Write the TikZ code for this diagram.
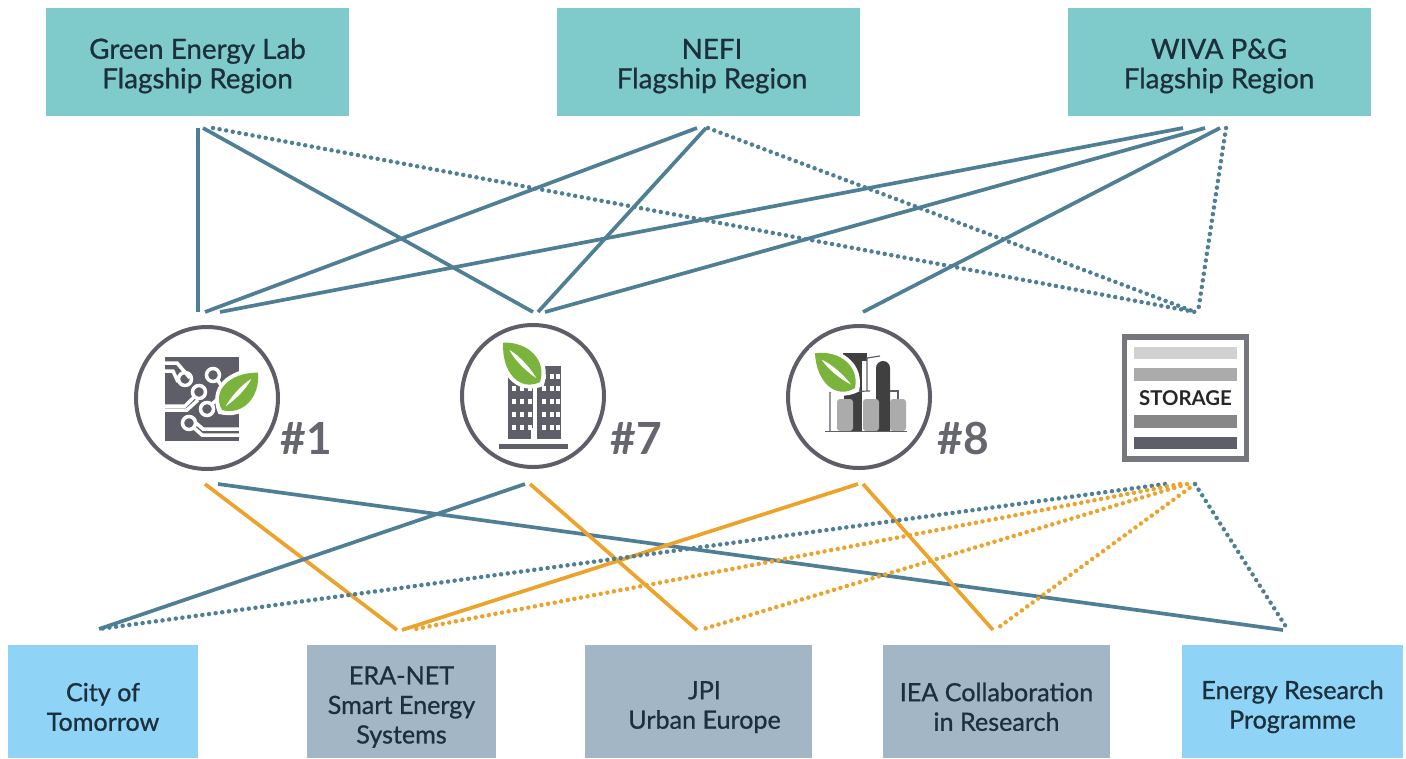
\documentclass[tikz,border=0pt]{standalone}
\usepackage{fontspec}
\setmainfont{Lato}
\newfontfamily\boxfont[FakeBold=0.8]{Lato}
\usetikzlibrary{calc}
\definecolor{topteal}{HTML}{7FCACA}
\definecolor{lightblue}{HTML}{8FD3F7}
\definecolor{greyblue}{HTML}{A3B6C6}
\definecolor{linkteal}{HTML}{4F7F95}
\definecolor{linkorange}{HTML}{EDA32B}
\definecolor{icongrey}{HTML}{5E5E68}
\definecolor{leafgreen}{HTML}{7AB43C}
\definecolor{tankgrey}{HTML}{ABABAB}
\definecolor{boxtext}{HTML}{1C2F3C}
\newcommand{\toplift}{\rule{0pt}{8pt}}
\newcommand{\botlift}{\rule{0pt}{8.3pt}}
\tikzset{
	region/.style={fill=topteal,minimum width=3.03cm,minimum height=1.08cm,inner sep=0pt,align=center,font=\boxfont\fontsize{7.9}{8.4}\selectfont,text=boxtext},
	programme/.style={fill=#1,minimum height=1.13cm,inner sep=0pt,align=center,font=\boxfont\fontsize{7.15}{8.4}\selectfont,text=boxtext},
	linkblue/.style={line width=0.037cm,color=linkteal},
	linkblued/.style={line width=0.045cm,color=linkteal,line cap=round,dash pattern=on 0pt off 0.067cm},
	linkor/.style={line width=0.037cm,color=linkorange},
	linkord/.style={line width=0.045cm,color=linkorange,line cap=round,dash pattern=on 0pt off 0.067cm},
	badge/.style={circle,draw=icongrey,line width=0.04cm,minimum size=1.42cm,inner sep=0pt},
	number/.style={font=\fontsize{12.6}{13}\selectfont\bfseries,text=icongrey!95},
	trace/.style={white,line width=0.035cm},
	leaf/.pic={
		\fill[white] (-0.1,0) .. controls (0.1,0.5) and (0.65,0.5) .. (1.14,0) .. controls (0.7,-0.46) and (0.15,-0.46) .. (-0.1,0) -- cycle;
		\fill[leafgreen] (0,0) .. controls (0.12,0.4) and (0.62,0.4) .. (1,0) .. controls (0.68,-0.36) and (0.2,-0.36) .. (0,0) -- cycle;
		\fill[white] (0.1,0) .. controls (0.3,0.05) and (0.6,0.07) .. (0.82,0.01) .. controls (0.6,-0.06) and (0.3,-0.04) .. (0.1,0) -- cycle;
	}
}
\begin{document}
\begin{tikzpicture}
	\useasboundingbox (0,0) rectangle (14.06,7.58);
	%%%%% BOXES %%%%%

	\node[region] (green) at (1.975,6.96) {\toplift Green Energy Lab\\Flagship Region};
	\node[region] (nefi) at (7.08,6.96) {\toplift\hspace*{0.08cm}NEFI\\\hspace*{0.08cm}Flagship Region};
	\node[region] (wiva) at (12.19,6.96) {\toplift WIVA P\&G\\Flagship Region};

	\node[programme=lightblue,minimum width=1.9cm] (city) at (1.03,0.565) {\botlift City of\\Tomorrow};
	\node[programme=greyblue,minimum width=1.89cm] (era) at (4.015,0.565) {\botlift ERA-NET\\Smart Energy\\Systems};
	\node[programme=greyblue,minimum width=2.27cm] (jpi) at (6.985,0.565) {\botlift\hspace*{0.12cm}JPI\\\hspace*{0.12cm}Urban Europe};
	\node[programme=greyblue,minimum width=2.27cm] (iea) at (9.965,0.565) {\botlift IEA Collaboration\\in Research};
	\node[programme=lightblue,minimum width=2.21cm] (erp) at (12.925,0.565) {\botlift Energy Research\\Programme};

	%%%%% ICONS %%%%%

	\node[badge] (one) at (2.07,3.6) {};
	\node[badge] (seven) at (5.33,3.62) {};
	\node[badge] (eight) at (8.59,3.61) {};
	\node[number] (onenum) at (3.06,3.2) {\#1};
	\node[number] (sevennum) at (6.36,3.2) {\#7};
	\node[number] (eightnum) at (9.63,3.2) {\#8};

	% chip
	\fill[icongrey] (1.65,3.17) rectangle (2.39,4.01);
	\draw[trace] (1.65,3.95) -- (1.77,3.95) -- (1.9,3.8);
	\draw[trace] (1.65,3.87) -- (1.73,3.87) -- (1.78,3.76);
	\draw[trace] (1.85,3.79) circle (0.065);
	\draw[trace] (2.13,3.83) circle (0.065);
	\draw[trace] (2.17,3.79) -- (2.24,3.68);
	\draw[trace] (1.99,3.66) circle (0.065);
	\draw[trace] (1.95,3.62) -- (1.85,3.52) -- (1.65,3.52);
	\draw[trace] (1.65,3.48) -- (1.87,3.48) -- (1.98,3.58);
	\draw[trace] (2.07,3.49) circle (0.065);
	\draw[trace] (2.11,3.53) -- (2.24,3.65);
	\draw[trace] (1.89,3.35) circle (0.065);
	\draw[trace] (1.93,3.31) -- (2.02,3.23) -- (2.39,3.23);
	\draw[trace] (1.96,3.35) -- (2.03,3.29) -- (2.39,3.29);
	\pic[shift={(2.22,3.48)},rotate=46,scale=0.52] {leaf};

	% building
	\fill[icongrey] (5.08,3.19) rectangle (5.33,3.81);
	\fill[icongrey] (5.37,3.19) rectangle (5.61,3.92);
	\fill[icongrey] (4.99,3.09) rectangle (5.68,3.14);
	\fill[white] (5.31,3.19) rectangle (5.33,3.3);
	\foreach \wx in {5.12,5.2,5.28}
		\foreach \wy in {3.28,3.41,3.54,3.67}
			\fill[white] (\wx,\wy) rectangle +(0.04,0.05);
	\foreach \wx in {5.42,5.5,5.56}
		\foreach \wy in {3.28,3.41,3.54,3.67,3.79}
			\fill[white] (\wx,\wy) rectangle +(0.04,0.05);
	\pic[shift={(5.4,3.76)},rotate=133,scale=0.54] {leaf};

	% refinery
	\fill[black!75] (8.43,4.05) rectangle (8.67,3.97);
	\fill[black!75] (8.5,4.0) rectangle (8.62,3.27);
	\fill[black!75] (8.44,3.75) rectangle (8.6,3.27);
	\fill[black!75] (8.76,3.27) -- (8.76,3.9) arc (180:0:0.07) -- (8.9,3.27) -- cycle;
	\draw[icongrey,line width=0.012cm] (8.3,3.27) -- (8.3,3.66) -- (8.7,3.67);
	\draw[icongrey,line width=0.012cm] (8.67,3.67) -- (8.67,4.0) -- (8.8,4.02);
	\draw[icongrey,line width=0.012cm] (8.9,3.67) -- (8.98,3.67) -- (8.98,3.58);
	\foreach \tx in {8.37,8.63,8.9}
		\fill[tankgrey,rounded corners=0.03cm] (\tx,3.27) rectangle +(0.16,0.32);
	\draw[icongrey,line width=0.012cm] (8.25,3.265) -- (9.07,3.265);
	\pic[shift={(8.55,3.7)},rotate=139,scale=0.53] {leaf};

	% storage
	\node[draw=icongrey!85,line width=0.055cm,minimum size=1.22cm,inner sep=0pt] (storage) at (11.855,3.6) {};
	\fill[black!18] (11.34,3.99) rectangle (12.37,4.11);
	\fill[black!33] (11.34,3.77) rectangle (12.37,3.9);
	\fill[black!47] (11.34,3.3) rectangle (12.37,3.43);
	\fill[icongrey] (11.34,3.09) rectangle (12.37,3.21);
	\node[font=\fontsize{5.8}{6}\selectfont\bfseries,text=black!85] (storagetext) at (11.855,3.6) {STORAGE};

	%%%%% LINKS %%%%%

	\coordinate (gA) at (1.98,6.3);
	\coordinate (gB) at (2.03,6.3);
	\coordinate (gC) at (2.13,6.3);
	\coordinate (nA) at (6.97,6.3);
	\coordinate (nB) at (7.06,6.3);
	\coordinate (nC) at (7.08,6.3);
	\coordinate (wA) at (11.83,6.3);
	\coordinate (wB) at (12.05,6.3);
	\coordinate (wC) at (12.2,6.3);
	\coordinate (wD) at (12.26,6.3);
	\coordinate (oneA) at (1.98,4.46);
	\coordinate (oneB) at (2.05,4.46);
	\coordinate (oneC) at (2.2,4.46);
	\coordinate (sevenA) at (5.33,4.46);
	\coordinate (sevenB) at (5.38,4.46);
	\coordinate (sevenC) at (5.45,4.46);
	\coordinate (eightA) at (8.63,4.46);
	\coordinate (stA) at (11.95,4.46);
	\coordinate (stB) at (11.98,4.46);

	\draw[linkblue] (gA) -- (oneA);
	\draw[linkblue] (gB) -- (sevenA);
	\draw[linkblued] (gC) -- (stA);
	\draw[linkblue] (nA) -- (oneB);
	\draw[linkblue] (nB) -- (sevenB);
	\draw[linkblued] (nC) -- (stA);
	\draw[linkblue] (wA) -- (oneC);
	\draw[linkblue] (wB) -- (sevenC);
	\draw[linkblue] (wC) -- (eightA);
	\draw[linkblued] (wD) -- (stB);

	\coordinate (oneD) at (2.05,2.74);
	\coordinate (oneE) at (2.18,2.74);
	\coordinate (sevenD) at (5.25,2.74);
	\coordinate (sevenE) at (5.3,2.74);
	\coordinate (eightD) at (8.58,2.74);
	\coordinate (eightE) at (8.63,2.74);
	\coordinate (stC) at (11.65,2.74);
	\coordinate (stD) at (11.8,2.74);
	\coordinate (stE) at (11.87,2.74);
	\coordinate (stF) at (11.95,2.74);
	\coordinate (cityA) at (0.99,1.29);
	\coordinate (eraA) at (3.97,1.28);
	\coordinate (eraB) at (4.02,1.28);
	\coordinate (eraC) at (4.1,1.28);
	\coordinate (jpiA) at (6.97,1.28);
	\coordinate (jpiB) at (7.0,1.28);
	\coordinate (ieaA) at (9.93,1.28);
	\coordinate (ieaB) at (9.95,1.28);
	\coordinate (erpA) at (12.83,1.28);
	\coordinate (erpB) at (12.88,1.28);

	\draw[linkor] (oneD) -- (eraA);
	\draw[linkblue] (oneE) -- (erpA);
	\draw[linkblue] (sevenD) -- (cityA);
	\draw[linkor] (sevenE) -- (jpiA);
	\draw[linkor] (eightD) -- (eraB);
	\draw[linkor] (eightE) -- (ieaA);
	\draw[linkblued] (stC) -- (cityA);
	\draw[linkord] (stD) -- (eraC);
	\draw[linkord] (stE) -- (jpiB);
	\draw[linkord] (stF) -- (ieaB);
	\draw[linkblued] (stF) -- (erpB);
\end{tikzpicture}
\end{document}
